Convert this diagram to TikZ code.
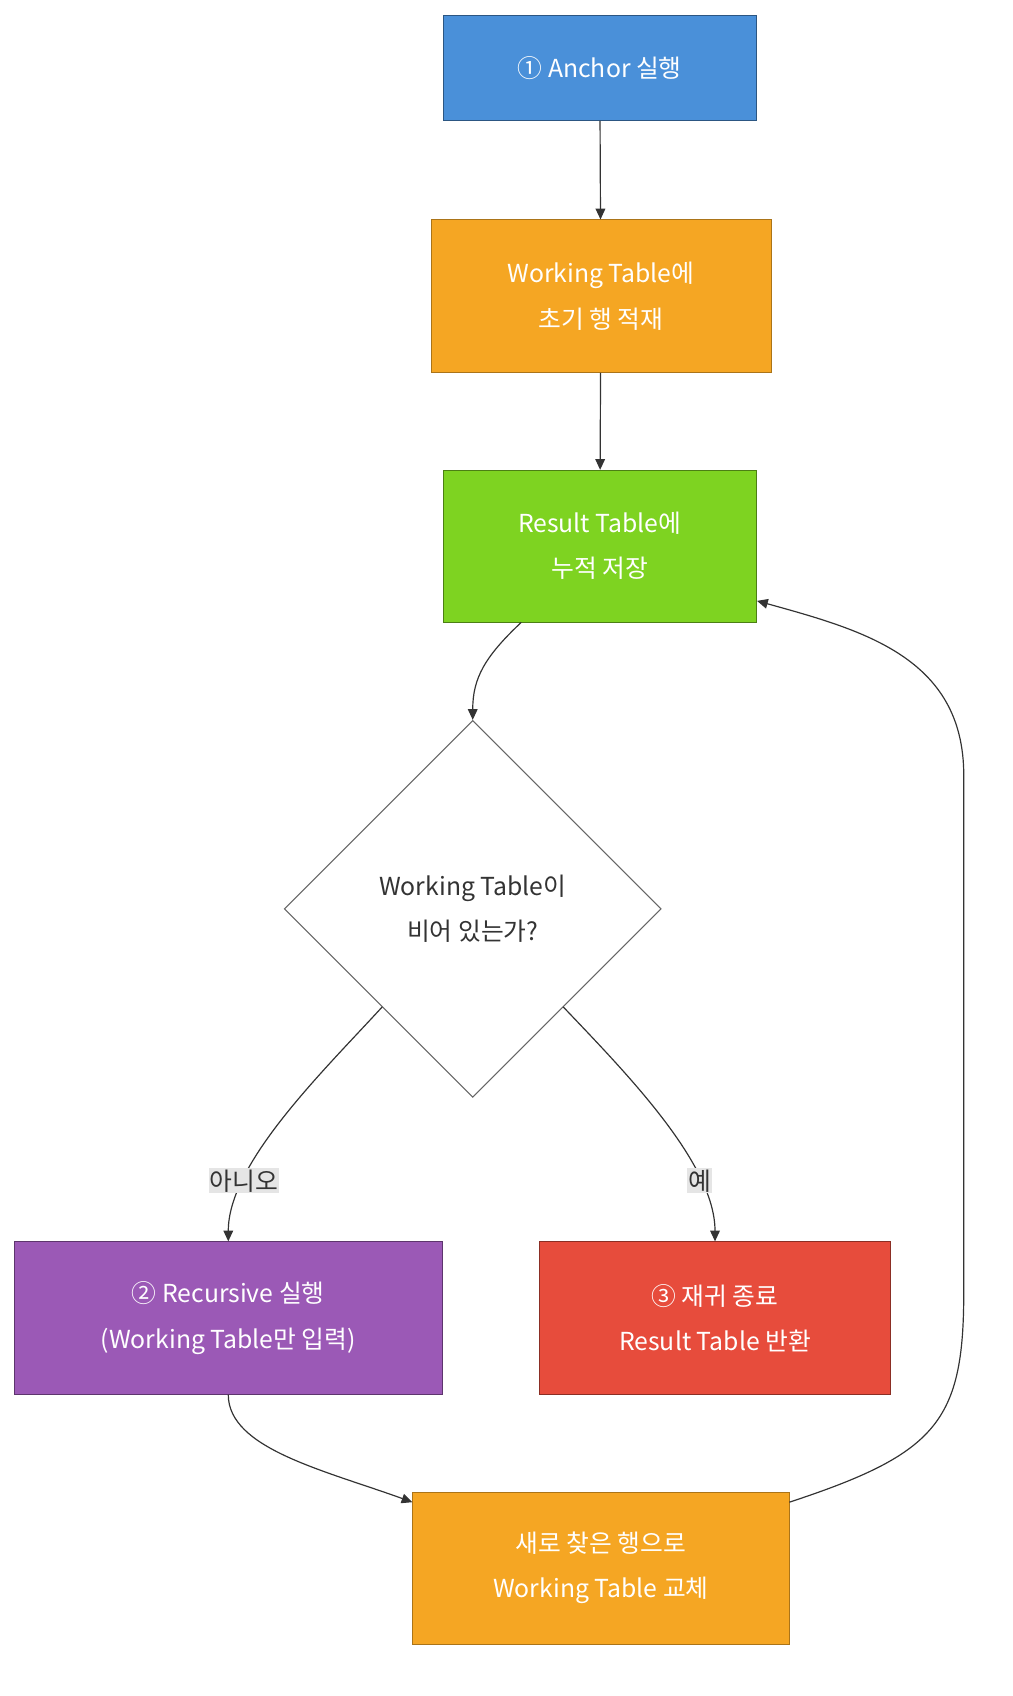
\documentclass[tikz,border=0pt]{standalone}
\usepackage{fontspec}
\setmainfont{Noto Sans CJK KR}
\usetikzlibrary{positioning, shapes.geometric, arrows.meta, calc}
\definecolor{anchorblue}{HTML}{4A90D9}
\definecolor{workorange}{HTML}{F5A623}
\definecolor{resultgreen}{HTML}{7ED321}
\definecolor{recpurple}{HTML}{9B59B6}
\definecolor{endred}{HTML}{E74C3C}

\begin{document}
\begin{tikzpicture}[
    x=1pt, y=-1pt,
    font=\fontsize{23}{42}\selectfont,
    box/.style={rectangle, draw, text=white, align=center, inner sep=0pt},
    arrow/.style={-{Triangle[length=10pt,width=9pt]}, draw=black!80, line width=1.1pt},
    lbl/.style={fill=black!10, text=black!80, inner sep=1pt}
]
    \useasboundingbox (0,0) rectangle (940,1575);
    \node[box, fill=anchorblue, draw=anchorblue!60!black, minimum width=291pt, minimum height=98pt] (anchor) at (557,63) {① Anchor 실행};
    \node[box, fill=workorange, draw=workorange!70!black, minimum width=316pt, minimum height=142pt] (init) at (558,275) {Working Table에\\초기 행 적재};
    \node[box, fill=resultgreen, draw=resultgreen!60!black, minimum width=291pt, minimum height=141pt] (result) at (557,507) {Result Table에\\누적 저장};
    \node[diamond, draw=black!60, line width=1pt, fill=white, text=black!80, align=center, minimum width=350pt, minimum height=350pt, inner sep=0pt] (check) at (439,844) {Working Table이\\비어 있는가?};
    \node[box, fill=recpurple, draw=recpurple!60!black, minimum width=397pt, minimum height=142pt] (rec) at (212,1224) {② Recursive 실행\\(Working Table만 입력)};
    \node[box, fill=endred, draw=endred!60!black, minimum width=326pt, minimum height=142pt] (done) at (664,1224) {③ 재귀 종료\\Result Table 반환};
    \node[box, fill=workorange, draw=workorange!70!black, minimum width=350pt, minimum height=141pt] (swap) at (558,1456) {새로 찾은 행으로\\Working Table 교체};

    \coordinate (resout) at (484,578);
    \coordinate (noout) at (355,935);
    \coordinate (yesout) at (523,935);
    \coordinate (swapin) at (383,1395);
    \coordinate (swapout) at (733,1395);
    \coordinate (resin) at (703,558);

    \draw[arrow] (anchor) -- (init);
    \draw[arrow] (init) -- (result);
    \draw[arrow] (resout) .. controls (450,610) and (439,630) .. (check.north);
    \draw[arrow] (noout) .. controls (300,995) and (212,1080) .. node[lbl, pos=0.75] {아니오} (rec.north);
    \draw[arrow] (yesout) .. controls (580,995) and (664,1080) .. node[lbl, pos=0.75] {예} (done.north);
    \draw[arrow] (rec.south) .. controls (212,1345) and (300,1365) .. (swapin);
    \draw[arrow] (swapout) .. controls (870,1350) and (895,1320) .. (895,1200) -- (895,720) .. controls (895,610) and (800,585) .. (resin);
\end{tikzpicture}
\end{document}
